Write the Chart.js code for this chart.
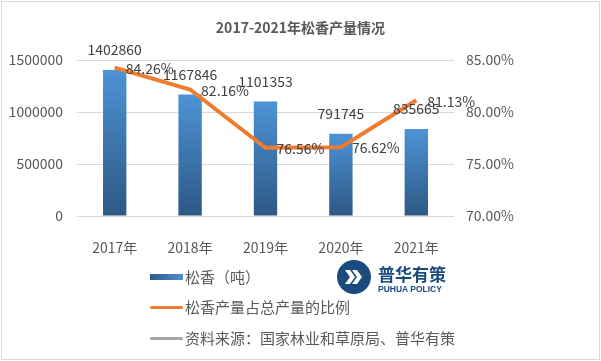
<!DOCTYPE html>
<html>
<head>
<meta charset="utf-8">
<script src="https://cdn.jsdelivr.net/npm/chart.js@4"></script>
<style>
  body { margin: 0; background: #fff; }
  #wrap { position: relative; width: 601px; height: 361px; font-family: "Noto Sans CJK SC", sans-serif; color: #595959; }
  #frame { position: absolute; left: 1px; top: 1px; width: 597px; height: 357px; border: 1px solid #d9d9d9; }
  #title { position: absolute; left: 0; width: 601px; top: 17px; text-align: center; font-size: 14px; font-weight: bold; color: #595959; }
  .leg { position: absolute; left: 150px; font-size: 15px; line-height: 20px; display: flex; align-items: center; }
  .sw { width: 33px; margin-right: 2px; }
  #logo { position: absolute; left: 337px; top: 260px; }
  #logo .t1 { position: absolute; left: 41px; top: 1px; font-size: 17px; font-weight: bold; color: #1b4a7f; white-space: nowrap; }
  #logo .t2 { position: absolute; left: 41px; top: 24px; font-size: 8.5px; font-weight: bold; color: #1b4a7f; white-space: nowrap; font-family: "Liberation Sans", sans-serif; }
</style>
</head>
<body>
<div id="wrap">
  <canvas id="mychart" width="601" height="361"></canvas>
  <div id="frame"></div>
  <div id="title">2017-2021年松香产量情况</div>
  <div class="leg" style="top:267px"><div class="sw" style="height:6px;background:linear-gradient(90deg,#2f5a88,#4f8fcf)"></div>松香（吨）</div>
  <div class="leg" style="top:297px"><div class="sw" style="height:3px;background:#ed7d31;border-radius:2px"></div>松香产量占总产量的比例</div>
  <div class="leg" style="top:328px"><div class="sw" style="height:3px;background:#a5a5a5;border-radius:2px"></div>资料来源：国家林业和草原局、普华有策</div>
  <div id="logo">
    <svg width="34" height="34" viewBox="0 0 34 34">
      <circle cx="17" cy="17" r="17" fill="#1b4a7f"/>
      <path d="M8 10 L13 10 L18 17 L13 24 L8 24 L13 17 Z" fill="#fff"/>
      <path d="M15 10 L20 10 L25 17 L20 24 L15 24 L20 17 Z" fill="#fff"/>
    </svg>
    <div class="t1">普华有策</div>
    <div class="t2">PUHUA POLICY</div>
  </div>
</div>
<script>
var years = ["2017年", "2018年", "2019年", "2020年", "2021年"];
var output = [1402860, 1167846, 1101353, 791745, 835665];
var ratio = [0.8426, 0.8216, 0.7656, 0.7662, 0.8113];
var leftTicks = [0, 500000, 1000000, 1500000];
var rightTicks = [0.70, 0.75, 0.80, 0.85];

var labelFont = '14px "Noto Sans CJK SC", sans-serif';

// data labels, drawn after the marks
var labelsPlugin = {
  id: 'labels',
  afterDatasetsDraw: function(chart) {
    var ctx = chart.ctx;
    ctx.save();
    ctx.font = labelFont;
    ctx.fillStyle = '#404040';
    ctx.textBaseline = 'middle';
    ctx.textAlign = 'center';
    chart.getDatasetMeta(0).data.forEach(function(el, i) {
      ctx.fillText(String(output[i]), el.x, el.y - 20);
    });
    ctx.textAlign = 'left';
    chart.getDatasetMeta(1).data.forEach(function(el, i) {
      ctx.fillText((ratio[i] * 100).toFixed(2) + '%', el.x + 11, el.y + 1);
    });
    ctx.restore();
  }
};

function barGradient(c) {
  var chart = c.chart;
  if (!chart.chartArea || c.dataIndex === undefined) return '#3f7cbf';
  var y = chart.scales.y;
  var top = y.getPixelForValue(output[c.dataIndex]);
  var bottom = y.getPixelForValue(0);
  var g = chart.ctx.createLinearGradient(0, top, 0, bottom);
  g.addColorStop(0, '#4d93d6');
  g.addColorStop(1, '#2d5884');
  return g;
}

var mychart = document.getElementById('mychart').getContext('2d');
var chart = new Chart(mychart, {
  type: 'bar',
  data: {
    labels: years,
    datasets: [
      {
        label: '松香（吨）',
        data: output,
        backgroundColor: barGradient,
        barPercentage: 0.31,
        categoryPercentage: 1,
        yAxisID: 'y',
        order: 1
      },
      {
        type: 'line',
        label: '松香产量占总产量的比例',
        data: ratio,
        borderColor: '#ed7d31',
        borderWidth: 4,
        pointRadius: 0,
        tension: 0,
        yAxisID: 'y1',
        order: 0
      }
    ]
  },
  options: {
    responsive: false,
    animation: false,
    layout: { padding: { top: 60, left: 0, right: 0, bottom: 105 } },
    plugins: { legend: { display: false }, tooltip: { enabled: false } },
    scales: {
      x: {
        grid: { display: false },
        border: { display: false },
        ticks: { color: '#595959', font: { size: 14, family: '"Noto Sans CJK SC", sans-serif' }, padding: 15 },
        afterFit: function(s) { s.height = 40; }
      },
      y: {
        position: 'left',
        min: 0, max: 1500000,
        afterBuildTicks: function(s) { s.ticks = leftTicks.map(function(v) { return { value: v }; }); },
        grid: { color: '#d9d9d9', drawTicks: false },
        border: { display: false },
        ticks: {
          color: '#595959', font: { size: 14, family: '"Noto Sans CJK SC", sans-serif' }, padding: 14,
          callback: function(v) { return String(v); }
        },
        afterFit: function(s) { s.width = 77; }
      },
      y1: {
        position: 'right',
        min: 0.70, max: 0.85,
        afterBuildTicks: function(s) { s.ticks = rightTicks.map(function(v) { return { value: v }; }); },
        grid: { display: false, drawTicks: false },
        border: { display: false },
        ticks: {
          color: '#595959', font: { size: 14, family: '"Noto Sans CJK SC", sans-serif' }, padding: 12,
          callback: function(v) { return (v * 100).toFixed(2) + '%'; }
        },
        afterFit: function(s) { s.width = 147; }
      }
    }
  },
  plugins: [labelsPlugin]
});
</script>
</body>
</html>
